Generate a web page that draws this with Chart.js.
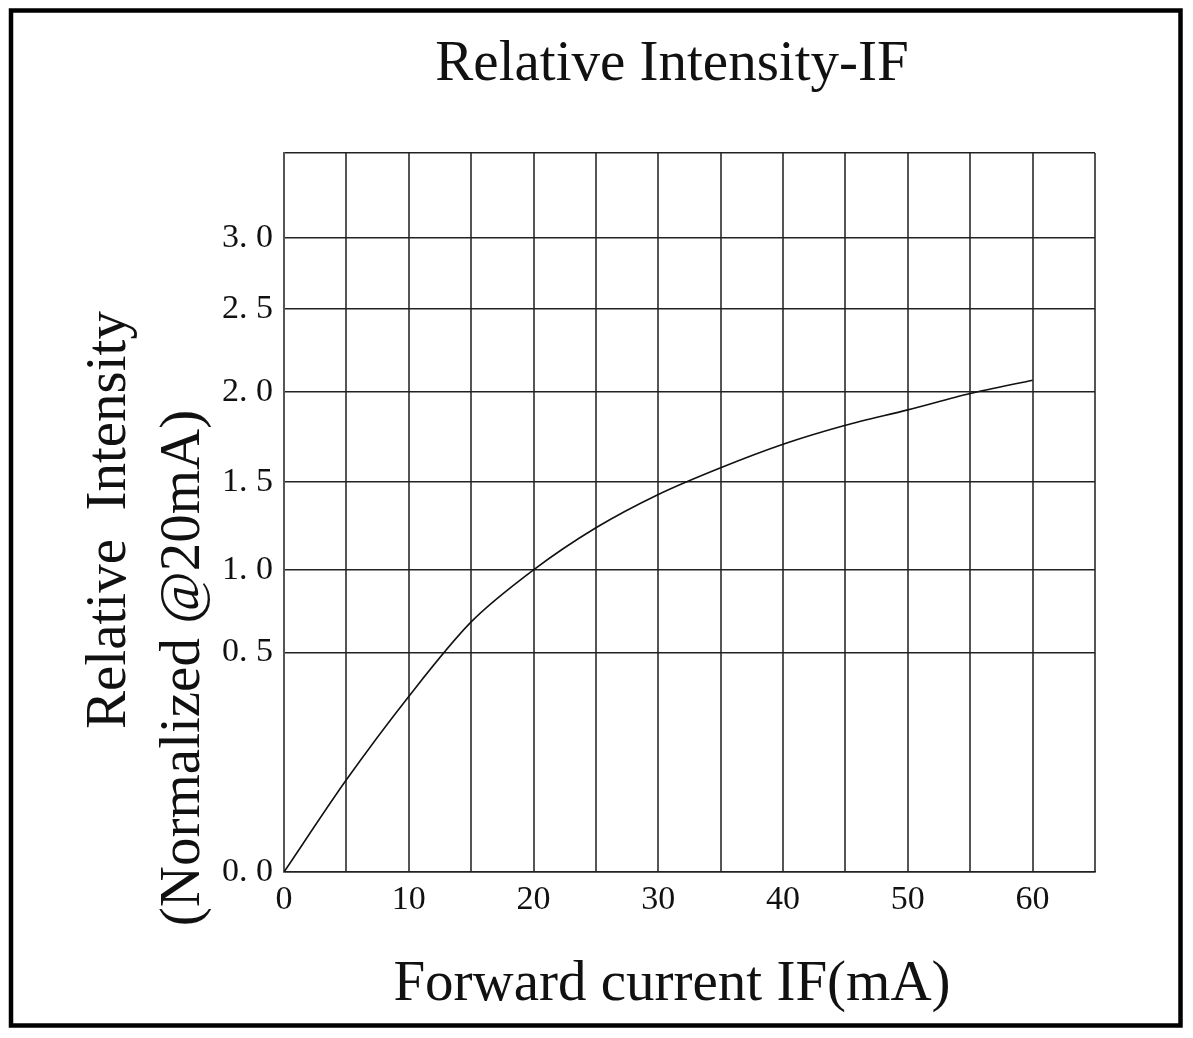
<!DOCTYPE html>
<html>
<head>
<meta charset="utf-8">
<title>Relative Intensity-IF</title>
<script src="https://cdn.jsdelivr.net/npm/chart.js@4.4.1/dist/chart.umd.min.js"></script>
<style>
  html, body { margin: 0; padding: 0; background: #fff; }
  canvas { display: block; }
</style>
</head>
<body>
<canvas id="ivChart" width="1193" height="1038"></canvas>
<script>
// values
const CURRENT_MA = [0, 5, 10, 15, 20, 25, 30, 35, 40, 45, 50, 55, 60];
const REL_INTENSITY = [0, 0.21, 0.40, 0.685, 1.00, 1.24, 1.43, 1.58, 1.71, 1.815, 1.90, 1.99, 2.07];

// axis ticks
const X_TICK_VALUES = [0, 5, 10, 15, 20, 25, 30, 35, 40, 45, 50, 55, 60, 65];
const X_TICK_LABELS = ["0", "", "10", "", "20", "", "30", "", "40", "", "50", "", "60", ""];
const Y_TICK_VALUES = [0, 0.5, 1.0, 1.5, 2.0, 2.5, 3.0, 3.5];
const Y_TICK_LABELS = ["0. 0", "0. 5", "1. 0", "1. 5", "2. 0", "2. 5", "3. 0", ""];

// the printed y grid is not evenly spaced: where each tick sits (0 = bottom, 1 = top)
const Y_GRID_FRACTIONS = [0, 0.3053, 0.4202, 0.5422, 0.6679, 0.7829, 0.8817, 1];

const SERIF = "'Liberation Serif', 'Times New Roman', serif";

// linear scale with a piecewise mapping, so the odd grid of the original works
class BrokenScale extends Chart.LinearScale {
  static id = "broken";
  static defaults = Chart.LinearScale.defaults;

  toFraction(value) {
    const v = Y_TICK_VALUES, f = Y_GRID_FRACTIONS;
    if (value <= v[0]) return f[0];
    for (let i = 1; i < v.length; i++) {
      if (value <= v[i]) {
        return f[i - 1] + (value - v[i - 1]) / (v[i] - v[i - 1]) * (f[i] - f[i - 1]);
      }
    }
    return 1;
  }

  getPixelForValue(value) {
    if (value === null || value === undefined) return NaN;
    return this.getPixelForDecimal(this.toFraction(value));
  }

  getValueForPixel(pixel) {
    const d = this.getDecimalForPixel(pixel);
    const v = Y_TICK_VALUES, f = Y_GRID_FRACTIONS;
    for (let i = 1; i < f.length; i++) {
      if (d <= f[i]) {
        return v[i - 1] + (d - f[i - 1]) / (f[i] - f[i - 1]) * (v[i] - v[i - 1]);
      }
    }
    return v[v.length - 1];
  }

  // the axis box is narrow (title is centred off the plot), don't clip the labels to it
  _computeLabelArea() {
    return undefined;
  }
}
Chart.register(BrokenScale);

// outer frame + the two-line rotated y title
const framePlugin = {
  id: "frame",
  afterDraw(chart) {
    const ctx = chart.ctx;
    ctx.save();
    ctx.strokeStyle = "#000";
    ctx.lineWidth = 4.5;
    ctx.strokeRect(11, 10.5, 1169.5, 1015);

    ctx.fillStyle = "#111";
    ctx.font = "57px " + SERIF;
    ctx.textAlign = "center";
    ctx.textBaseline = "middle";
    ctx.translate(110, 520);
    ctx.rotate(-Math.PI / 2);
    ctx.fillText("Relative  Intensity", 0, 0);
    ctx.rotate(Math.PI / 2);
    ctx.translate(74, 148);
    ctx.rotate(-Math.PI / 2);
    ctx.fillText("(Normalized @20mA)", 0, 0);
    ctx.restore();
  }
};

const points = CURRENT_MA.map((x, i) => ({ x: x, y: REL_INTENSITY[i] }));

new Chart(document.getElementById("ivChart"), {
  type: "line",
  data: {
    datasets: [{
      data: points,
      borderColor: "#111",
      borderWidth: 1.6,
      pointRadius: 0,
      tension: 0.3,
      fill: false
    }]
  },
  options: {
    responsive: false,
    animation: false,
    layout: { padding: { left: 249, right: 98, top: 0, bottom: 0 } },
    plugins: {
      legend: { display: false },
      tooltip: { enabled: false },
      title: {
        display: true,
        text: "Relative Intensity-IF",
        color: "#111",
        font: { family: SERIF, size: 57, weight: "normal", lineHeight: 1.2 },
        padding: { top: 30.8, bottom: 53.8 }
      },
      subtitle: {
        display: true,
        position: "bottom",
        text: "Forward current IF(mA)",
        color: "#111",
        font: { family: SERIF, size: 57, weight: "normal", lineHeight: 1.2 },
        padding: { top: 0, bottom: 18.8 }
      }
    },
    scales: {
      x: {
        type: "linear",
        min: 0,
        max: 65,
        afterBuildTicks: (scale) => {
          scale.ticks = X_TICK_VALUES.map((v) => ({ value: v }));
        },
        afterFit: (scale) => { scale.height = 78.8; },
        ticks: {
          autoSkip: false,
          maxRotation: 0,
          padding: 8,
          color: "#111",
          font: { family: SERIF, size: 34 },
          callback: (v) => X_TICK_LABELS[X_TICK_VALUES.indexOf(v)] ?? ""
        },
        grid: { color: "#555", lineWidth: 2, drawTicks: false },
        border: { color: "#222", width: 1.5 }
      },
      y: {
        type: "broken",
        min: 0,
        max: 3.5,
        afterBuildTicks: (scale) => {
          scale.ticks = Y_TICK_VALUES.map((v) => ({ value: v }));
        },
        afterFit: (scale) => { scale.width = 35; },
        ticks: {
          autoSkip: false,
          padding: 11,
          color: "#111",
          font: { family: SERIF, size: 34 },
          callback: (v) => Y_TICK_LABELS[Y_TICK_VALUES.indexOf(v)] ?? ""
        },
        grid: { color: "#222", lineWidth: 1.5, drawTicks: false },
        border: { color: "#555", width: 2 }
      }
    }
  },
  plugins: [framePlugin]
});
</script>
</body>
</html>
